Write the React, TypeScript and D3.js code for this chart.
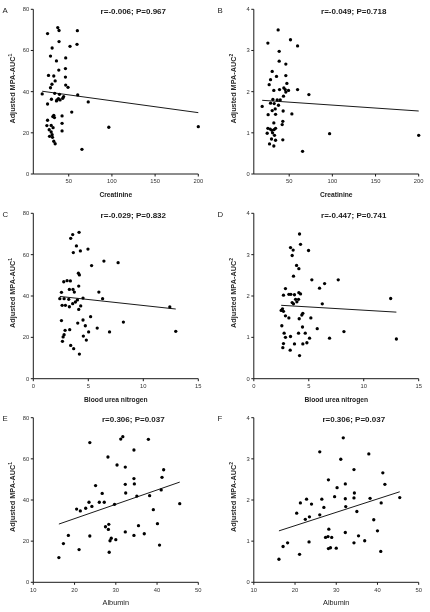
import React from "react";
import * as d3 from "d3";

type Pt = [number, number];

// Creatinine vs adjusted MPA-AUC (1)
const creatinineAuc1: Pt[] = [
  [37.3, 71.1], [38.8, 69.7], [25.5, 68.2], [60, 69.6], [38.8, 64.3], [59.6, 63], [51.5, 62],
  [30.8, 61.2], [28.9, 57.3], [46.5, 56.4], [35.8, 54.9], [46.2, 51.2], [38.5, 50.5], [26.6, 47.9],
  [32.7, 47.6], [46.2, 47.1], [34.3, 45.2], [30.6, 43.6], [46.5, 43.2], [49.2, 42.1], [28.9, 41.9],
  [19.3, 38.9], [33.8, 39.2], [39.3, 38.7], [60.4, 38.4], [44.1, 37.6], [43.1, 36.8], [38.1, 36.6],
  [30, 36.3], [36.5, 36], [40, 36], [35.8, 35.5], [72.6, 35], [25.5, 34], [53.5, 30.1], [42.3, 28.2],
  [32.7, 28.5], [31.6, 27.9], [33.5, 27.4], [25.5, 26.1], [42.3, 24.6], [29.7, 23.6], [24.7, 23.5],
  [31.9, 22.5], [27.4, 21.5], [42.3, 20.9], [29.7, 20.4], [30.8, 19.1], [27.8, 18.3], [31.2, 17.8],
  [32.7, 15.9], [34.3, 14.7], [96.4, 22.7], [200, 23], [65.3, 12],
];

// Creatinine vs adjusted MPA-AUC (2)
const creatinineAuc2: Pt[] = [
  [37.2, 3.5], [25.3, 3.18], [51.5, 3.26], [59.7, 3.11], [38.4, 2.98], [38.4, 2.74], [46.1, 2.67],
  [30.3, 2.49], [35.3, 2.37], [46.1, 2.39], [28.4, 2.29], [47.3, 2.2], [26.8, 2.17], [43.8, 2.09],
  [45.4, 2.05], [32.2, 2.03], [38.8, 2.05], [49.2, 2.03], [59.7, 2.05], [46.1, 1.99], [72.8, 1.93],
  [43.4, 1.89], [36.1, 1.8], [39.6, 1.8], [31.1, 1.81], [18.7, 1.64], [37.6, 1.67], [28.4, 1.72],
  [32.6, 1.71], [30.3, 1.54], [33.8, 1.58], [53.1, 1.46], [43, 1.53], [25.6, 1.44], [34.2, 1.45],
  [32.2, 1.24], [42.6, 1.28], [41.9, 1.2], [25.3, 1.11], [28, 1.09], [30, 1.06], [32.6, 1.08],
  [34.2, 1.11], [24.5, 0.99], [30.7, 1.0], [33, 0.94], [29.5, 0.85], [34.2, 0.82], [42.6, 0.83],
  [27.2, 0.73], [32.2, 0.68], [65.5, 0.55], [96.8, 0.98], [200, 0.94],
];

// Blood urea nitrogen vs adjusted MPA-AUC (1)
const bunAuc1: Pt[] = [
  [4.16, 70.8], [3.58, 69.7], [3.4, 67.9], [3.92, 64.2], [4.97, 62.7], [4.28, 61.8], [3.64, 61.0],
  [6.42, 56.9], [7.71, 56.1], [5.3, 54.7], [4.1, 51.0], [4.19, 50.2], [3.07, 47.4], [2.77, 46.9],
  [3.37, 47.3], [4.13, 44.8], [3.28, 43.2], [3.61, 43.2], [5.96, 41.9], [2.56, 41.8], [3.73, 41.9],
  [2.41, 38.7], [2.8, 38.7], [3.22, 38.4], [4.52, 39.0], [6.3, 38.7], [4.01, 38.1], [3.83, 37.1],
  [3.58, 36.3], [2.62, 35.5], [2.92, 35.5], [3.28, 34.8], [4.31, 35.2], [4.13, 33.5], [12.41, 34.7],
  [5.21, 30.0], [2.56, 28.1], [4.52, 28.4], [4.04, 26.9], [4.73, 25.6], [8.19, 27.4], [5.81, 24.5],
  [3.31, 23.7], [2.89, 23.4], [5.03, 22.6], [6.93, 22.6], [12.95, 22.9], [2.8, 21.3], [4.55, 20.6],
  [2.71, 20.2], [4.82, 18.7], [2.65, 18.1], [3.4, 16.1], [3.67, 14.5], [4.19, 11.9],
];

// Blood urea nitrogen vs adjusted MPA-AUC (2)
const bunAuc2: Pt[] = [
  [4.16, 3.5], [4.25, 3.25], [3.34, 3.17], [3.58, 3.11], [4.98, 3.1], [3.49, 2.98], [3.89, 2.74],
  [4.1, 2.66], [3.61, 2.48], [5.28, 2.39], [7.68, 2.39], [6.44, 2.3], [5.98, 2.19], [2.88, 2.18],
  [4.1, 2.08], [4.25, 2.05], [3.19, 2.04], [3.37, 2.04], [3.7, 2.03], [2.7, 2.02], [12.45, 1.94],
  [3.8, 1.92], [4.07, 1.92], [3.49, 1.84], [3.92, 1.86], [6.23, 1.81], [3.61, 1.81], [2.49, 1.65],
  [2.7, 1.63], [2.61, 1.69], [4.46, 1.58], [4.37, 1.54], [2.88, 1.52], [5.19, 1.47], [3.19, 1.47],
  [4.13, 1.45], [2.55, 1.28], [4.43, 1.25], [5.77, 1.21], [8.2, 1.14], [2.76, 1.1], [4.68, 1.1],
  [4.07, 1.1], [2.88, 1.0], [5.07, 0.98], [6.89, 0.98], [12.97, 0.96], [4.83, 0.87], [4.46, 0.84],
  [2.7, 0.85], [3.7, 0.84], [2.64, 0.75], [3.31, 0.69], [4.16, 0.56], [3.34, 1.02],
];

// Albumin vs adjusted MPA-AUC (1)
const albuminAuc1: Pt[] = [
  [31.7, 70.8], [31.2, 69.6], [37.9, 69.5], [23.7, 67.9], [34.4, 64.3], [28.1, 60.9], [30.3, 57.0],
  [32.3, 56.0], [41.6, 54.7], [34.4, 50.4], [41.2, 51.0], [34.5, 47.8], [32.3, 47.6], [25.1, 47.0],
  [26.7, 43.2], [32.4, 43.4], [41.0, 44.9], [35.1, 41.9], [38.2, 42.1], [20.5, 35.6], [21.4, 34.7],
  [22.7, 36.0], [23.5, 38.9], [24.2, 36.9], [26.0, 38.9], [27.2, 38.9], [29.7, 37.9], [39.1, 35.3],
  [45.5, 38.2], [28.3, 28.2], [27.5, 27.0], [35.5, 27.5], [28.2, 25.7], [40.1, 28.5], [32.3, 24.5],
  [36.9, 23.6], [18.5, 22.8], [23.7, 22.5], [34.4, 22.8], [28.9, 21.4], [28.6, 20.2], [30.0, 20.7],
  [17.3, 18.8], [40.6, 18.1], [21.1, 15.9], [28.4, 14.6], [16.2, 12.0],
];

// Albumin vs adjusted MPA-AUC (2)
const albuminAuc2: Pt[] = [
  [31.7, 3.51], [26.0, 3.17], [37.9, 3.12], [31.1, 2.99], [34.3, 2.74], [41.3, 2.66], [28.1, 2.49],
  [32.2, 2.39], [41.8, 2.38], [30.2, 2.3], [34.4, 2.17], [29.6, 2.08], [22.8, 2.02], [26.5, 2.02],
  [32.2, 2.03], [34.3, 2.05], [38.2, 2.04], [45.4, 2.06], [21.3, 1.93], [24.0, 1.9], [40.9, 1.93],
  [32.3, 1.84], [27.0, 1.82], [35.0, 1.72], [20.4, 1.68], [26.0, 1.64], [23.5, 1.59], [22.5, 1.53],
  [39.1, 1.52], [28.2, 1.29], [32.2, 1.21], [40.0, 1.25], [35.4, 1.13], [27.4, 1.09], [28.0, 1.11],
  [28.9, 1.09], [23.4, 0.98], [17.1, 0.87], [18.2, 0.96], [34.3, 0.96], [36.9, 1.01], [28.1, 0.82],
  [28.6, 0.84], [30.0, 0.83], [21.1, 0.68], [40.8, 0.75], [16.1, 0.56],
];

// Linear fit endpoints for each panel
const fitA: Pt[] = [[19.3, 40.2], [200, 29.8]];
const fitB: Pt[] = [[18.7, 1.79], [200, 1.53]];
const fitC: Pt[] = [[2.41, 39.8], [12.95, 33.7]];
const fitD: Pt[] = [[2.49, 1.775], [12.97, 1.61]];
const fitE: Pt[] = [[16.2, 28.3], [45.5, 48.7]];
const fitF: Pt[] = [[16.1, 1.25], [45.4, 2.2]];

const statLabels = [
  "r=-0.006; P=0.967",
  "r=-0.049; P=0.718",
  "r=-0.029; P=0.832",
  "r=-0.447; P=0.741",
  "r=0.306; P=0.037",
  "r=0.306; P=0.037",
];
const panelLetters = ["A", "B", "C", "D", "E", "F"];

const creatinineTicks = [50, 100, 150, 200];
const bunTicks = [0, 5, 10, 15];
const albuminTicks = [10, 20, 30, 40, 50];
const auc1Ticks = [0, 20, 40, 60, 80];
const auc2Ticks = [0, 1, 2, 3, 4];

const xTitles = ["Creatinine", "Blood urea nitrogen", "Albumin"];

type PanelCfg = {
  letter: string;
  stat: string;
  points: Pt[];
  fit: Pt[];
  xDomain: [number, number];
  xTicks: number[];
  yTicks: number[];
  xTitle: string;
  xTitleBold: boolean;
  aucIndex: string;
};

const panels: PanelCfg[] = [
  { points: creatinineAuc1, fit: fitA, xDomain: [9, 200], xTicks: creatinineTicks, yTicks: auc1Ticks, xTitle: xTitles[0], xTitleBold: true, aucIndex: "1" },
  { points: creatinineAuc2, fit: fitB, xDomain: [9, 200], xTicks: creatinineTicks, yTicks: auc2Ticks, xTitle: xTitles[0], xTitleBold: true, aucIndex: "2" },
  { points: bunAuc1, fit: fitC, xDomain: [0, 15], xTicks: bunTicks, yTicks: auc1Ticks, xTitle: xTitles[1], xTitleBold: true, aucIndex: "1" },
  { points: bunAuc2, fit: fitD, xDomain: [0, 15], xTicks: bunTicks, yTicks: auc2Ticks, xTitle: xTitles[1], xTitleBold: true, aucIndex: "2" },
  { points: albuminAuc1, fit: fitE, xDomain: [10, 50], xTicks: albuminTicks, yTicks: auc1Ticks, xTitle: xTitles[2], xTitleBold: false, aucIndex: "1" },
  { points: albuminAuc2, fit: fitF, xDomain: [10, 50], xTicks: albuminTicks, yTicks: auc2Ticks, xTitle: xTitles[2], xTitleBold: false, aucIndex: "2" },
].map((p, i) => ({ ...p, letter: panelLetters[i], stat: statLabels[i] }));

const FONT = "'Liberation Sans', Arial, Helvetica, sans-serif";
const INK = "#1a1a1a";

// plot-area extents for the two columns and three rows
const COLS: [number, number][] = [[33.3, 198.3], [253.8, 418.7]];
const ROWS: [number, number][] = [[9.3, 174], [213.3, 378.7], [417.7, 582.3]];

function Panel({ cfg, col, row }: { cfg: PanelCfg; col: number; row: number }) {
  const [x0, x1] = COLS[col];
  const [yTop, yBottom] = ROWS[row];
  const yMax = cfg.yTicks[cfg.yTicks.length - 1];
  const x = d3.scaleLinear().domain(cfg.xDomain).range([x0, x1]);
  const y = d3.scaleLinear().domain([0, yMax]).range([yBottom, yTop]);
  const fitPath = d3.line<Pt>().x((d) => x(d[0])).y((d) => y(d[1]))(cfg.fit) || "";
  const midY = (yTop + yBottom) / 2;
  const midX = (x0 + x1) / 2;
  const letterX = col === 0 ? 2.5 : 217.5;
  const yTitleX = x0 - 20.5;

  return (
    <g>
      <text x={letterX} y={yTop + 3.6} fontFamily={FONT} fontSize={7.8} fill={INK}>
        {cfg.letter}
      </text>
      <text
        x={midX + 17.5}
        y={yTop + 4.6}
        fontFamily={FONT}
        fontSize={8}
        fontWeight="bold"
        fill={INK}
        textAnchor="middle"
      >
        {cfg.stat}
      </text>

      {/* axes */}
      <line x1={x0} x2={x1} y1={yBottom} y2={yBottom} stroke={INK} strokeWidth={1} />
      <line x1={x0} x2={x0} y1={yBottom} y2={yTop} stroke={INK} strokeWidth={1} />

      {cfg.yTicks.map((t) => (
        <g key={`y${t}`}>
          <line x1={x0 - 2.5} x2={x0} y1={y(t)} y2={y(t)} stroke={INK} strokeWidth={1} />
          <text
            x={x0 - 4}
            y={y(t) + 2}
            fontFamily={FONT}
            fontSize={5.8}
            fill="#333"
            textAnchor="end"
          >
            {t}
          </text>
        </g>
      ))}
      {cfg.xTicks.map((t) => (
        <g key={`x${t}`}>
          <line x1={x(t)} x2={x(t)} y1={yBottom} y2={yBottom + 2.5} stroke={INK} strokeWidth={1} />
          <text
            x={x(t)}
            y={yBottom + 9.2}
            fontFamily={FONT}
            fontSize={5.8}
            fill="#333"
            textAnchor="middle"
          >
            {t}
          </text>
        </g>
      ))}

      <text
        x={midX}
        y={yBottom + 23}
        fontFamily={FONT}
        fontSize={cfg.xTitleBold ? 6.7 : 7.3}
        fontWeight={cfg.xTitleBold ? "bold" : "normal"}
        fill={INK}
        textAnchor="middle"
      >
        {cfg.xTitle}
      </text>

      <text
        transform={`translate(${yTitleX},${midY - 3}) rotate(-90)`}
        fontFamily={FONT}
        fontSize={7.3}
        fontWeight="bold"
        fill="#2a2a2a"
        textAnchor="middle"
        dominantBaseline="central"
      >
        Adjusted MPA-AUC
        <tspan fontSize={5} dy={-2.6}>
          {cfg.aucIndex}
        </tspan>
      </text>

      <path d={fitPath} fill="none" stroke={INK} strokeWidth={1} />

      {cfg.points.map((d, i) => (
        <circle key={i} cx={x(d[0])} cy={y(d[1])} r={1.65} fill="#000" />
      ))}
    </g>
  );
}

export default function App() {
  return (
    <svg
      width={430}
      height={612}
      viewBox="0 0 430 612"
      style={{ position: "absolute", left: 0, top: 0, background: "#fff", willChange: "transform" }}
    >
      <rect width={430} height={612} fill="#fff" />
      {panels.map((cfg, i) => (
        <Panel key={cfg.letter} cfg={cfg} col={i % 2} row={Math.floor(i / 2)} />
      ))}
    </svg>
  );
}
